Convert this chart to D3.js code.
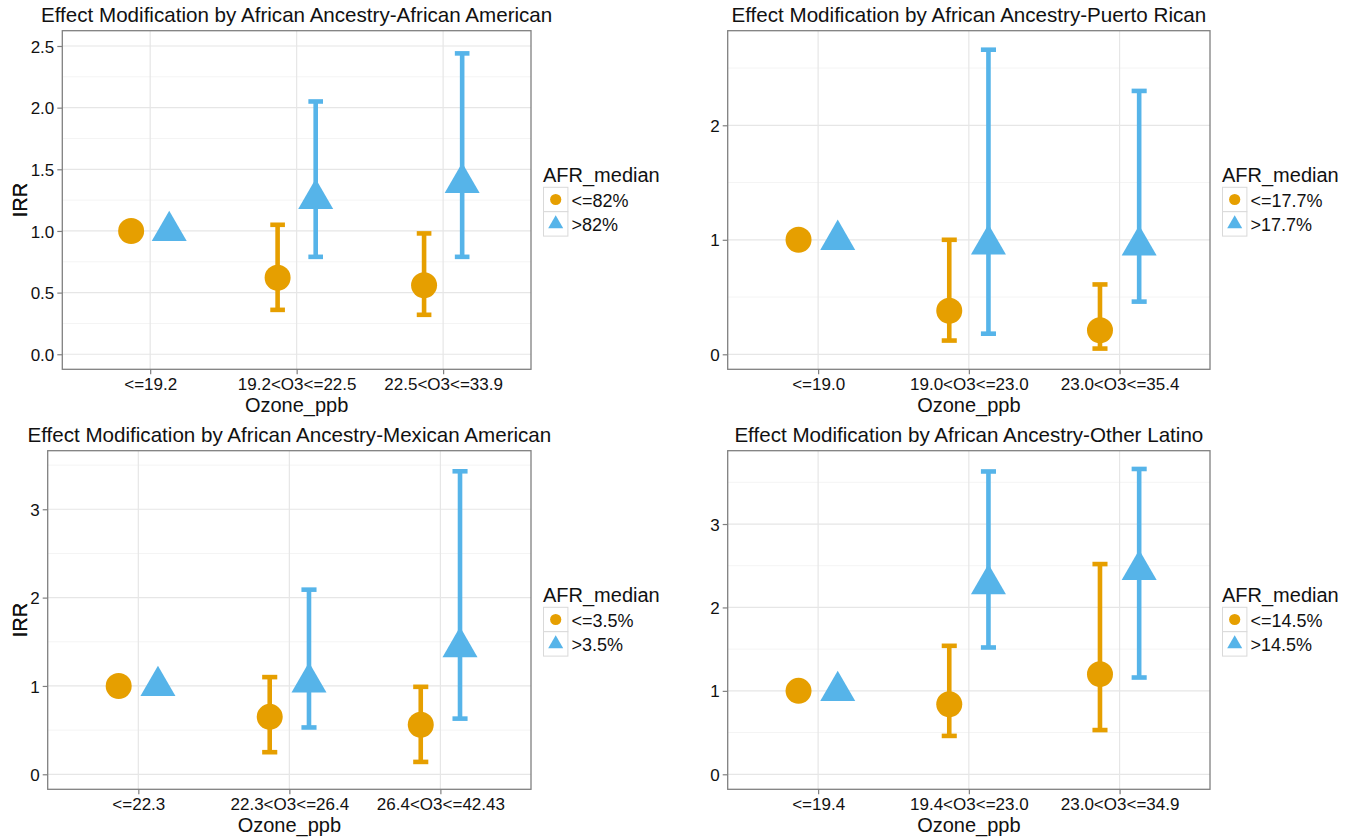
<!DOCTYPE html>
<html>
<head>
<meta charset="utf-8">
<script src="https://cdn.jsdelivr.net/npm/d3@7"></script>
<style>
  body { margin: 0; background: #ffffff; }
  svg { display: block; font-family: "Liberation Sans", Arial, sans-serif; }
</style>
</head>
<body>
<div id="chart"></div>
<script>
// chart data, one entry per panel
const panelTitles = [
    "Effect Modification by African Ancestry-African American",
    "Effect Modification by African Ancestry-Puerto Rican",
    "Effect Modification by African Ancestry-Mexican American",
    "Effect Modification by African Ancestry-Other Latino"
];
const ozoneCategories = [
    ["<=19.2", "19.2<O3<=22.5", "22.5<O3<=33.9"],
    ["<=19.0", "19.0<O3<=23.0", "23.0<O3<=35.4"],
    ["<=22.3", "22.3<O3<=26.4", "26.4<O3<=42.43"],
    ["<=19.4", "19.4<O3<=23.0", "23.0<O3<=34.9"]
];
const legendLabels = [
    ["<=82%", ">82%"],
    ["<=17.7%", ">17.7%"],
    ["<=3.5%", ">3.5%"],
    ["<=14.5%", ">14.5%"]
];

// low African ancestry group (circles)
const lowIRR   = [[1.00, 0.62, 0.56], [1.00, 0.38, 0.21], [1.00, 0.65, 0.56], [1.00, 0.84, 1.20]];
const lowLower = [[null, 0.36, 0.32], [null, 0.12, 0.05], [null, 0.25, 0.14], [null, 0.46, 0.53]];
const lowUpper = [[null, 1.05, 0.98], [null, 1.00, 0.61], [null, 1.10, 0.99], [null, 1.54, 2.52]];

// high African ancestry group (triangles)
const highIRR   = [[1.00, 1.26, 1.39], [1.00, 0.96, 0.95], [1.00, 1.04, 1.44], [1.00, 2.28, 2.45]];
const highLower = [[null, 0.79, 0.79], [null, 0.18, 0.46], [null, 0.53, 0.63], [null, 1.52, 1.16]];
const highUpper = [[null, 2.05, 2.44], [null, 2.66, 2.30], [null, 2.09, 3.43], [null, 3.63, 3.66]];

// y axis per panel
const yDomains = [[-0.122, 2.624], [-0.131, 2.826], [-0.170, 3.663], [-0.180, 3.879]];
const yTicks = [[0, 0.5, 1, 1.5, 2, 2.5], [0, 1, 2], [0, 1, 2, 3], [0, 1, 2, 3]];
const yMinorTicks = [[0.25, 0.75, 1.25, 1.75, 2.25], [0.5, 1.5, 2.5], [0.5, 1.5, 2.5, 3.5], [0.5, 1.5, 2.5, 3.5]];
const yTickFormats = [".1f", "d", "d", "d"];

const COLORS = ["#E69F00", "#56B4E9"];

//layout of each plotting area (left, top, right, bottom)
const panelBoxes = [
    [62.3, 30.7, 531, 369.3],
    [727.7, 30.7, 1210, 369.3],
    [47.7, 450.7, 531, 789.3],
    [727.7, 450.7, 1210, 789.3]
];

const svg = d3.select("#chart")
    .append("svg")
    .attr("width", 1358)
    .attr("height", 838);

//triangle centred on its centroid
function trianglePath(w){
    const h = w * 0.866;
    return `M0,${-2 * h / 3}L${w / 2},${h / 3}L${-w / 2},${h / 3}Z`;
}

function drawPanel(p){
    const [left, top, right, bottom] = panelBoxes[p];
    const g = svg.append("g");

    const x = d3.scalePoint()
        .domain(ozoneCategories[p])
        .range([left, right])
        .padding(0.6);
    const step = x.step();

    const y = d3.scaleLinear()
        .domain(yDomains[p])
        .range([bottom, top]);

    //background grid
    g.append("g").selectAll("line")
        .data(yMinorTicks[p])
        .join("line")
        .attr("x1", left).attr("x2", right)
        .attr("y1", d => y(d)).attr("y2", d => y(d))
        .attr("stroke", "#f4f4f4")
        .attr("stroke-width", 1);
    g.append("g").selectAll("line")
        .data(yTicks[p])
        .join("line")
        .attr("x1", left).attr("x2", right)
        .attr("y1", d => y(d)).attr("y2", d => y(d))
        .attr("stroke", "#e6e6e6")
        .attr("stroke-width", 1.2);
    g.append("g").selectAll("line")
        .data(ozoneCategories[p])
        .join("line")
        .attr("x1", d => x(d)).attr("x2", d => x(d))
        .attr("y1", top).attr("y2", bottom)
        .attr("stroke", "#e6e6e6")
        .attr("stroke-width", 1.2);

    //build rows for both groups
    const groups = [
        {est: lowIRR[p], lo: lowLower[p], hi: lowUpper[p], offset: -0.13, shape: "circle"},
        {est: highIRR[p], lo: highLower[p], hi: highUpper[p], offset: 0.13, shape: "triangle"}
    ];

    groups.forEach((grp, gi) => {
        const rows = ozoneCategories[p].map((cat, i) => ({
            cx: x(cat) + grp.offset * step,
            est: grp.est[i],
            lo: grp.lo[i],
            hi: grp.hi[i]
        }));
        const bars = rows.filter(r => r.lo !== null);
        const capHalf = 0.05 * step;
        const eb = g.append("g")
            .attr("stroke", COLORS[gi])
            .attr("stroke-width", 4.6)
            .attr("fill", "none");
        eb.selectAll(".v").data(bars).join("line")
            .attr("x1", d => d.cx).attr("x2", d => d.cx)
            .attr("y1", d => y(d.lo)).attr("y2", d => y(d.hi));
        eb.selectAll(".t").data(bars).join("line")
            .attr("x1", d => d.cx - capHalf).attr("x2", d => d.cx + capHalf)
            .attr("y1", d => y(d.hi)).attr("y2", d => y(d.hi));
        eb.selectAll(".b").data(bars).join("line")
            .attr("x1", d => d.cx - capHalf).attr("x2", d => d.cx + capHalf)
            .attr("y1", d => y(d.lo)).attr("y2", d => y(d.lo));

        if(grp.shape === "circle"){
            g.append("g").selectAll("circle").data(rows).join("circle")
                .attr("cx", d => d.cx)
                .attr("cy", d => y(d.est))
                .attr("r", 13)
                .attr("fill", COLORS[gi]);
        } else {
            g.append("g").selectAll("path").data(rows).join("path")
                .attr("d", trianglePath(35))
                .attr("transform", d => `translate(${d.cx},${y(d.est)})`)
                .attr("fill", COLORS[gi]);
        }
    });

    //panel border
    g.append("rect")
        .attr("x", left).attr("y", top)
        .attr("width", right - left).attr("height", bottom - top)
        .attr("fill", "none")
        .attr("stroke", "#808080")
        .attr("stroke-width", 1.3);

    //axes
    const yAxis = d3.axisLeft(y)
        .tickValues(yTicks[p])
        .tickFormat(d3.format(yTickFormats[p]))
        .tickSize(5)
        .tickPadding(3);
    const ya = g.append("g")
        .attr("transform", `translate(${left},0)`)
        .call(yAxis);
    const xAxis = d3.axisBottom(x)
        .tickSize(5)
        .tickPadding(3.5);
    const xa = g.append("g")
        .attr("transform", `translate(0,${bottom})`)
        .call(xAxis);
    [ya, xa].forEach(a => {
        a.select(".domain").remove();
        a.selectAll(".tick line").attr("stroke", "#808080").attr("stroke-width", 1.2);
        a.selectAll(".tick text")
            .attr("fill", "#111")
            .style("font-size", "17px");
    });
    ya.selectAll(".tick text").attr("dy", "0.36em");

    //titles
    g.append("text")
        .attr("x", (left + right) / 2)
        .attr("y", top - 8.7)
        .attr("text-anchor", "middle")
        .style("font-size", "20.6px")
        .attr("fill", "#111")
        .text(panelTitles[p]);
    g.append("text")
        .attr("x", (left + right) / 2)
        .attr("y", bottom + 42.4)
        .attr("text-anchor", "middle")
        .style("font-size", "20px")
        .attr("fill", "#111")
        .text("Ozone_ppb");
    g.append("text")
        .attr("transform", `translate(26.5,${(top + bottom) / 2}) rotate(-90)`)
        .attr("text-anchor", "middle")
        .style("font-size", "20px")
        .attr("fill", "#111")
        .text("IRR");

    //legend
    const lg = g.append("g")
        .attr("transform", `translate(${right + 12},${top + 151})`);
    lg.append("text")
        .attr("x", 0)
        .attr("y", 0)
        .style("font-size", "20px")
        .attr("fill", "#111")
        .text("AFR_median");
    legendLabels[p].forEach((lab, i) => {
        const ky = 5.6 + i * 24.4;
        lg.append("rect")
            .attr("x", 0.5).attr("y", ky)
            .attr("width", 24.4).attr("height", 24.4)
            .attr("fill", "#fff")
            .attr("stroke", "#d9d9d9")
            .attr("stroke-width", 1);
        if(i === 0){
            lg.append("circle")
                .attr("cx", 12.7).attr("cy", ky + 12.2)
                .attr("r", 5.6)
                .attr("fill", COLORS[0]);
        } else {
            lg.append("path")
                .attr("d", trianglePath(15))
                .attr("transform", `translate(12.7,${ky + 12.2})`)
                .attr("fill", COLORS[1]);
        }
        lg.append("text")
            .attr("x", 28.5)
            .attr("y", ky + 19.4)
            .style("font-size", "18px")
            .attr("fill", "#111")
            .text(lab);
    });
}

for(let p = 0; p < panelTitles.length; p++){
    drawPanel(p);
}
</script>
</body>
</html>
